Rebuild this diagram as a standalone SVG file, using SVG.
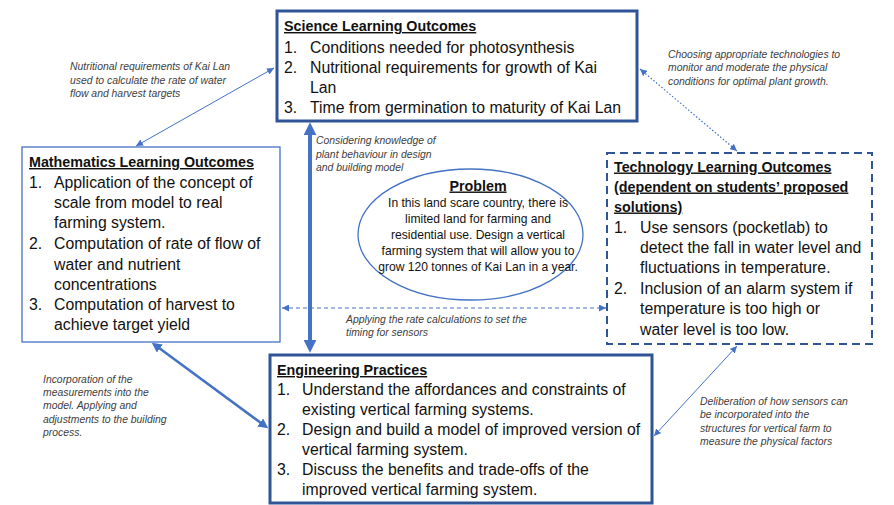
<svg xmlns="http://www.w3.org/2000/svg" width="894" height="505" viewBox="0 0 894 505">
<style>
  .body{font-family:"Liberation Sans",Arial,sans-serif;font-size:15.8px;fill:#111;}
  .title{font-family:"Liberation Sans",Arial,sans-serif;font-size:14.3px;font-weight:bold;fill:#111;text-decoration:underline;}
  .prob{font-family:"Liberation Sans",Arial,sans-serif;font-size:12.1px;fill:#111;text-anchor:middle;}
  .note{font-family:"Liberation Sans",Arial,sans-serif;font-size:10.4px;font-style:italic;fill:#404040;}
  .thick{fill:#fff;stroke:#2F5597;stroke-width:3;}
  .thin{fill:#fff;stroke:#4472C4;stroke-width:1.3;}
  .conn{stroke:#4472C4;fill:none;}
</style>
<defs>
  <marker id="ah" viewBox="0 0 10 10" refX="10" refY="5" markerWidth="7" markerHeight="7" markerUnits="userSpaceOnUse" orient="auto-start-reverse">
    <path d="M0,0 L10,5 L0,10 z" fill="#4472C4"/>
  </marker>
  <marker id="ahm" viewBox="0 0 10 10" refX="6" refY="5" markerWidth="10" markerHeight="10" markerUnits="userSpaceOnUse" orient="auto-start-reverse">
    <path d="M0,0 L10,5 L0,10 z" fill="#4472C4"/>
  </marker>
  <marker id="ahl" viewBox="0 0 10 10" refX="4" refY="5" markerWidth="13" markerHeight="13" markerUnits="userSpaceOnUse" orient="auto-start-reverse">
    <path d="M0,0 L10,5 L0,10 z" fill="#4472C4"/>
  </marker>
</defs>
<rect width="894" height="505" fill="#fff"/>

<g id="connectors">
  <line class="conn" x1="136" y1="146" x2="274" y2="68" stroke-width="1" marker-start="url(#ah)" marker-end="url(#ah)"/>
  <line class="conn" x1="640" y1="69" x2="737" y2="151" stroke-width="1.2" stroke-dasharray="1.5 2" marker-start="url(#ah)" marker-end="url(#ah)"/>
  <line class="conn" x1="310" y1="130" x2="310" y2="345" stroke-width="4" marker-start="url(#ahl)" marker-end="url(#ahl)"/>
  <line class="conn" x1="282" y1="308" x2="606" y2="308" stroke-width="1.2" stroke-dasharray="4 3" marker-start="url(#ah)" marker-end="url(#ah)"/>
  <line class="conn" x1="155" y1="345" x2="265" y2="426" stroke-width="2.5" marker-start="url(#ahm)" marker-end="url(#ahm)"/>
  <line class="conn" x1="737" y1="346" x2="654" y2="436" stroke-width="1" marker-start="url(#ah)" marker-end="url(#ah)"/>
</g>

<g id="science">
  <rect class="thick" x="277" y="11" width="360" height="110"/>
  <text class="title" x="284" y="31">Science Learning Outcomes</text>
  <text class="body" x="284" y="52.5">1.</text><text class="body" x="310" y="52.5">Conditions needed for photosynthesis</text>
  <text class="body" x="284" y="72.5">2.</text><text class="body" x="310" y="72.5">Nutritional requirements for growth of Kai</text>
  <text class="body" x="310" y="92.5">Lan</text>
  <text class="body" x="284" y="112.5">3.</text><text class="body" x="310" y="112.5">Time from germination to maturity of Kai Lan</text>
</g>

<g id="mathematics">
  <rect class="thin" x="22" y="147" width="258" height="195"/>
  <text class="title" x="29" y="167">Mathematics Learning Outcomes</text>
  <text class="body" x="29" y="188">1.</text><text class="body" x="54" y="188">Application of the concept of</text>
  <text class="body" x="54" y="208">scale from model to real</text>
  <text class="body" x="54" y="228">farming system.</text>
  <text class="body" x="29" y="249">2.</text><text class="body" x="54" y="249">Computation of rate of flow of</text>
  <text class="body" x="54" y="269.5">water and nutrient</text>
  <text class="body" x="54" y="290">concentrations</text>
  <text class="body" x="29" y="310">3.</text><text class="body" x="54" y="310">Computation of harvest to</text>
  <text class="body" x="54" y="330">achieve target yield</text>
</g>

<g id="technology">
  <rect x="607" y="153" width="265" height="191" fill="#fff" stroke="#2F5597" stroke-width="2" stroke-dasharray="8 5"/>
  <text class="title" x="614" y="171.5">Technology Learning Outcomes</text>
  <text class="title" x="614" y="191.5">(dependent on students’ proposed</text>
  <text class="title" x="614" y="211.5">solutions)</text>
  <text class="body" x="614" y="232.5">1.</text><text class="body" x="640" y="232.5">Use sensors (pocketlab) to</text>
  <text class="body" x="640" y="253">detect the fall in water level and</text>
  <text class="body" x="640" y="273">fluctuations in temperature.</text>
  <text class="body" x="614" y="294">2.</text><text class="body" x="640" y="294">Inclusion of an alarm system if</text>
  <text class="body" x="640" y="314">temperature is too high or</text>
  <text class="body" x="640" y="334.5">water level is too low.</text>
</g>

<g id="engineering">
  <rect class="thick" x="270" y="355" width="382" height="148"/>
  <text class="title" x="277" y="375">Engineering Practices</text>
  <text class="body" x="277" y="395">1.</text><text class="body" x="302" y="395">Understand the affordances and constraints of</text>
  <text class="body" x="302" y="415">existing vertical farming systems.</text>
  <text class="body" x="277" y="435">2.</text><text class="body" x="302" y="435">Design and build a model of improved version of</text>
  <text class="body" x="302" y="455">vertical farming system.</text>
  <text class="body" x="277" y="475">3.</text><text class="body" x="302" y="475">Discuss the benefits and trade-offs of the</text>
  <text class="body" x="302" y="495">improved vertical farming system.</text>
</g>

<g id="problem">
  <ellipse cx="470.5" cy="234.5" rx="112.5" ry="65.5" fill="#fff" stroke="#4472C4" stroke-width="1.3"/>
  <text class="title" x="478" y="190.5" text-anchor="middle">Problem</text>
  <text class="prob" x="478" y="207">In this land scare country, there is</text>
  <text class="prob" x="478" y="223">limited land for farming and</text>
  <text class="prob" x="478" y="239">residential use. Design a vertical</text>
  <text class="prob" x="478" y="255">farming system that will allow you to</text>
  <text class="prob" x="478" y="271">grow 120 tonnes of Kai Lan in a year.</text>
</g>

<g id="labels">
  <text class="note" x="70" y="70">Nutritional requirements of Kai Lan</text>
  <text class="note" x="70" y="83.5">used to calculate the rate of water</text>
  <text class="note" x="70" y="97">flow and harvest targets</text>
  <text class="note" x="668" y="57.5">Choosing appropriate technologies to</text>
  <text class="note" x="668" y="71">monitor and moderate the physical</text>
  <text class="note" x="668" y="84.5">conditions for optimal plant growth.</text>
  <text class="note" x="316" y="144.3">Considering knowledge of</text>
  <text class="note" x="316" y="157.5">plant behaviour in design</text>
  <text class="note" x="316" y="170.7">and building model</text>
  <text class="note" x="346" y="322.7">Applying the rate calculations to set the</text>
  <text class="note" x="346" y="335.5">timing for sensors</text>
  <text class="note" x="43" y="382.7">Incorporation of the</text>
  <text class="note" x="43" y="395.9">measurements into the</text>
  <text class="note" x="43" y="409.2">model. Applying and</text>
  <text class="note" x="43" y="422.6">adjustments to the building</text>
  <text class="note" x="43" y="436">process.</text>
  <text class="note" x="700" y="405">Deliberation of how sensors can</text>
  <text class="note" x="700" y="418.3">be incorporated into the</text>
  <text class="note" x="700" y="431.7">structures for vertical farm to</text>
  <text class="note" x="700" y="445">measure the physical factors</text>
</g>
</svg>
